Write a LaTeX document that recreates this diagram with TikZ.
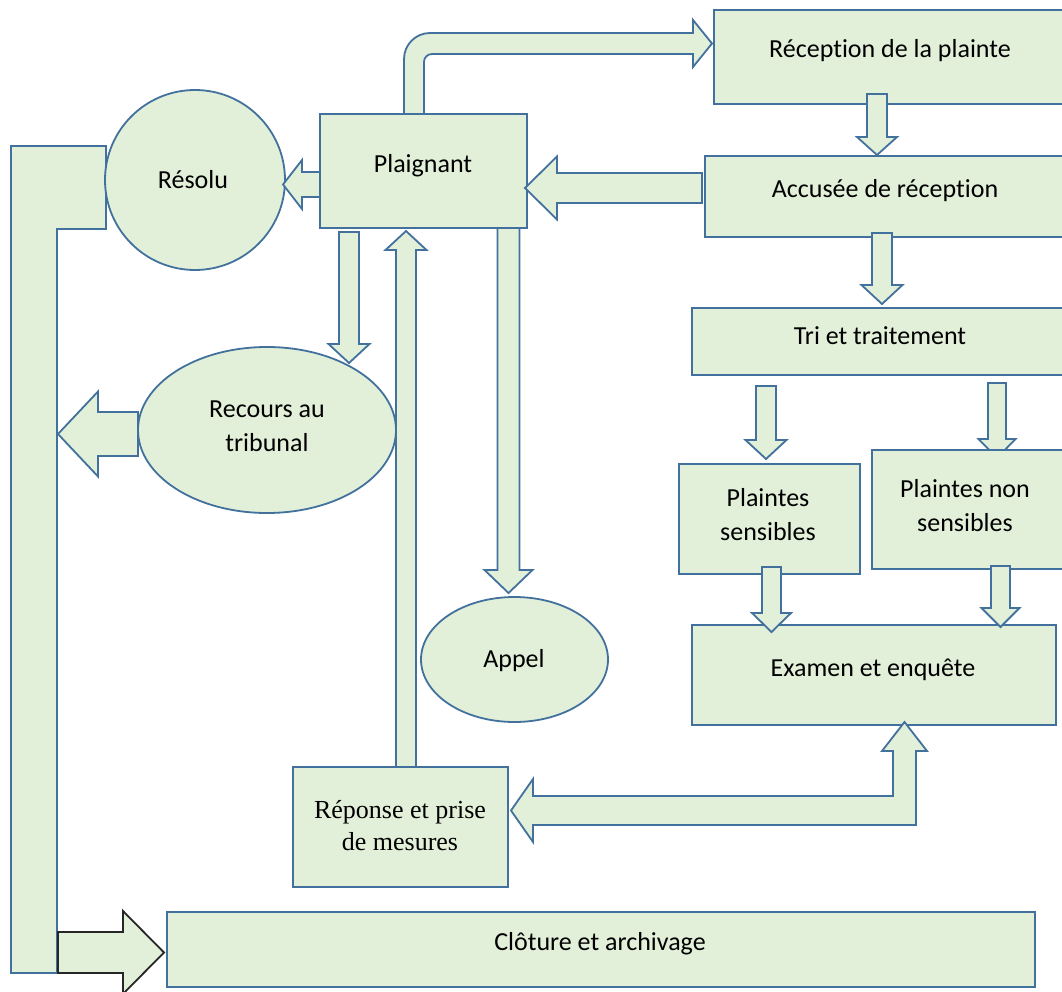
\documentclass[tikz,border=0pt]{standalone}
\usepackage{fontspec}
\setmainfont{Carlito}[Ligatures=NoCommon]
\newfontfamily\timesfont{Liberation Serif}
\usetikzlibrary{shapes.geometric}
\definecolor{boxfill}{HTML}{E2EFD9}
\definecolor{boxline}{HTML}{41719C}
\tikzset{
  shapestyle/.style={draw=boxline, fill=boxfill, line width=1.8pt},
  box/.style={shapestyle, rectangle, inner sep=0pt, outer sep=0pt},
  oval/.style={shapestyle, ellipse, inner sep=0pt, outer sep=0pt},
  barrow/.style={shapestyle, line join=miter},
  darkarrow/.style={draw=black!85, fill=boxfill, line width=1.8pt, line join=miter},
  txt/.style={font=\fontsize{26}{34}\selectfont, align=center, inner sep=0pt, text=black},
  serif/.style={font=\timesfont\fontsize{26}{32}\selectfont, align=center, inner sep=0pt, text=black},
}
% block arrows: centre line, start, tip, shaft half width, head half width, head length
\newcommand\blockdown[6]{\filldraw[barrow] (#1-#4,#2) -- (#1+#4,#2) -- (#1+#4,#3-#6) -- (#1+#5,#3-#6) -- (#1,#3) -- (#1-#5,#3-#6) -- (#1-#4,#3-#6) -- cycle;}
\newcommand\blockup[6]{\filldraw[barrow] (#1-#4,#2) -- (#1+#4,#2) -- (#1+#4,#3+#6) -- (#1+#5,#3+#6) -- (#1,#3) -- (#1-#5,#3+#6) -- (#1-#4,#3+#6) -- cycle;}
\newcommand\blockleft[6]{\filldraw[barrow] (#2,#1-#4) -- (#3+#6,#1-#4) -- (#3+#6,#1-#5) -- (#3,#1) -- (#3+#6,#1+#5) -- (#3+#6,#1+#4) -- (#2,#1+#4) -- cycle;}
\begin{document}
\begin{tikzpicture}[x=1pt, y=-1pt]
\useasboundingbox (0,0) rectangle (1062,992);

% return column on the left
\filldraw[barrow] (11,146) -- (106,146) -- (106,229) -- (57,229) -- (57,973) -- (11,973) -- cycle;

% arrow partly hidden under the box below it
\blockdown{997}{383}{458}{9}{18.5}{19}

% boxes and ovals
\node[box, minimum width=356pt, minimum height=94pt] (recep) at (892,57) {};
\node[box, minimum width=365pt, minimum height=81pt] (accus) at (887.5,196.5) {};
\node[box, minimum width=378pt, minimum height=67pt] (tri) at (881,341.5) {};
\node[box, minimum width=181pt, minimum height=110pt] (sens) at (769.5,519) {};
\node[box, minimum width=198pt, minimum height=119pt] (nonsens) at (971,509.5) {};
\node[box, minimum width=364pt, minimum height=100pt] (exam) at (874,675) {};
\node[box, minimum width=207pt, minimum height=114pt] (plaig) at (423.5,171) {};
\node[box, minimum width=215pt, minimum height=120pt] (repon) at (400.5,827) {};
\node[box, minimum width=868pt, minimum height=75pt] (clot) at (601,949.5) {};
\node[oval, minimum width=180pt, minimum height=180pt] (resol) at (195,180) {};
\node[oval, minimum width=258pt, minimum height=166pt] (recou) at (267,430) {};
\node[oval, minimum width=187pt, minimum height=125pt] (appel) at (514.5,659.5) {};

% straight block arrows
\blockdown{877}{94}{155}{10}{20}{18}
\blockdown{882}{233}{304}{10}{20.5}{19}
\blockdown{766}{386}{459}{10}{20.5}{19}
\blockdown{771.5}{567}{632}{9.5}{19.5}{19}
\blockdown{1000.5}{566}{627}{9.5}{19}{19}
\blockdown{349}{232}{363}{10}{20.5}{19}
\blockdown{508.5}{228}{593}{11}{24}{23}
\blockup{406}{767}{231}{10}{20.5}{19}
\blockleft{188}{702}{525}{15}{31.5}{32}
\blockleft{184.5}{320}{283}{12.5}{24.5}{19}
\blockleft{434}{138}{58}{22}{42.5}{40}

% bent arrow from the complainant to the reception of the complaint
\filldraw[barrow] (404,114) -- (404,59) arc[start angle=180, end angle=270, radius=26]
  -- (693,33) -- (693,20) -- (712,43.5) -- (693,67) -- (693,54) -- (432,54)
  arc[start angle=270, end angle=180, radius=8] -- (424,114) -- cycle;

% two-headed bent arrow between investigation and response
\filldraw[barrow] (511,810.5) -- (533,779) -- (533,796) -- (893,796) -- (893,751)
  -- (882,751) -- (904.5,722) -- (927,751) -- (916,751) -- (916,825) -- (533,825)
  -- (533,842) -- cycle;

% arrow into closing and archiving
\filldraw[darkarrow] (58,932) -- (123,932) -- (123,911) -- (164,952.5) -- (123,994)
  -- (123,973) -- (58,973) -- cycle;

% labels
\node[txt] (t-recep) at (890,51) {Réception de la plainte};
\node[txt] (t-accus) at (885,191) {Accusée de réception};
\node[txt] (t-tri) at (880,336) {Tri et traitement};
\node[txt] (t-sens) at (768,515) {Plaintes\\sensibles};
\node[txt] (t-nonsens) at (965,506) {Plaintes non\\sensibles};
\node[txt] (t-exam) at (873,670) {Examen et enquête};
\node[txt] (t-plaig) at (423,166) {Plaignant};
\node[txt] (t-resol) at (193,180) {Résolu};
\node[txt] (t-recou) at (267,426) {Recours au\\tribunal};
\node[txt] (t-appel) at (514,661) {Appel};
\node[serif] (t-repon) at (400,826) {Réponse et prise\\de mesures};
\node[txt] (t-clot) at (600,944) {Clôture et archivage};
\end{tikzpicture}
\end{document}
